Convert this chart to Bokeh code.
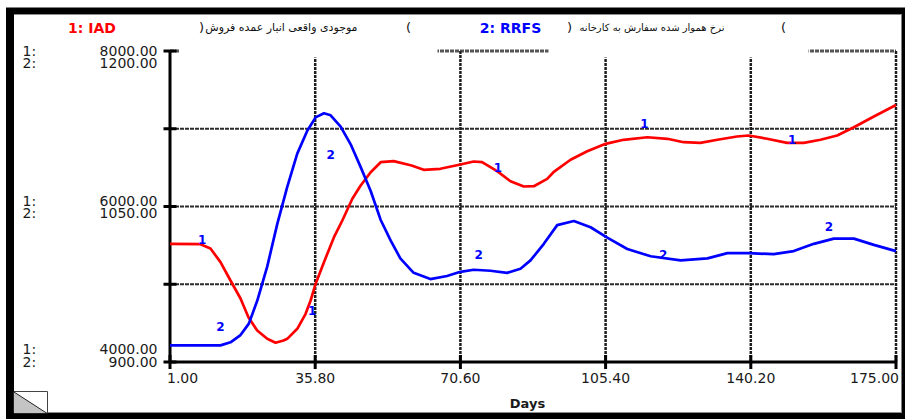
import numpy as np
from bokeh.plotting import figure
from bokeh.models import Range1d
from bokeh.core.properties import value
from bokeh.embed import file_html
from bokeh.resources import INLINE

# --- simulation output -------------------------------------------------------
# 1: IAD  - actual inventory at the distributor
days_iad = [1.0, 8.3, 10.7, 13.1, 15.5, 17.9, 19.8, 21.9, 24.3, 26.3, 28.2, 29.1,
            31.5, 33.5, 34.7, 35.9, 37.9, 40.3, 42.3, 44.7, 46.7, 49.1, 51.5, 54.6,
            58.9, 61.8, 65.8, 70.6, 73.8, 75.8, 79.4, 82.6, 85.8, 88.2, 91.4, 92.9,
            97.0, 101.0, 105.4, 109.7, 115.4, 120.2, 124.1, 128.1, 132.2, 136.9,
            139.7, 144.1, 148.9, 152.9, 156.9, 160.9, 164.9, 169.7, 175.0]
iad = [5520, 5515, 5460, 5284, 5048, 4817, 4576, 4405, 4298, 4247, 4276, 4298,
       4427, 4620, 4791, 5006, 5284, 5605, 5820, 6099, 6270, 6441, 6570, 6583,
       6527, 6472, 6485, 6540, 6579, 6570, 6454, 6325, 6257, 6261, 6356, 6441,
       6601, 6711, 6806, 6858, 6891, 6871, 6827, 6819, 6858, 6900,
       6913, 6871, 6819, 6819, 6858, 6913, 7020, 7158, 7305]

# 2: RRFS - smoothed order rate to the factory
days_rrfs = [1.0, 13.1, 15.5, 17.9, 19.9, 21.9, 24.3, 26.7, 29.1, 31.5, 33.9, 35.9,
             37.9, 39.5, 41.9, 44.3, 46.7, 49.1, 51.5, 53.9, 56.2, 59.4, 63.4, 67.4,
             70.6, 73.8, 77.8, 81.8, 85.0, 87.4, 90.6, 93.8, 97.8, 101.8, 105.8,
             110.6, 116.2, 123.4, 129.8, 134.6, 139.7, 145.7, 150.5, 155.3, 160.1,
             164.9, 169.7, 175.0]
rrfs = [916, 916, 919, 926, 937, 959, 992, 1033, 1069, 1101, 1123, 1136,
        1140, 1138, 1127, 1110, 1088, 1065, 1037, 1017, 1000, 986, 980, 983,
        987, 989, 988, 986, 990, 998, 1014, 1032, 1036, 1030, 1020,
        1009, 1002, 998, 1000, 1005, 1005, 1004, 1007, 1014, 1019,
        1019, 1013, 1007]

# numbered curve markers (day, value in the series' own units)
mark_days_iad = [8.7, 35.1, 79.6, 114.7, 150.1]
mark_vals_iad = [5572, 4662, 6498, 7064, 6858]
mark_days_rrfs = [13.1, 39.5, 75.0, 119.2, 158.9]
mark_vals_rrfs = [934, 1100, 1004, 1004, 1031]

# axes
x_ticks = [1.00, 35.80, 70.60, 105.40, 140.20, 175.00]
x_tick_labels = ["1.00", "35.80", "70.60", "105.40", "140.20", "175.00"]
iad_ticks = [4000, 5000, 6000, 7000, 8000]
iad_labeled = [8000, 6000, 4000]
iad_tick_labels = ["8000.00", "6000.00", "4000.00"]
rrfs_labeled = [1200, 1050, 900]
rrfs_tick_labels = ["1200.00", "1050.00", "900.00"]

series1_name = "1: IAD"
series1_desc = "موجودی واقعی انبار عمده فروش"
series2_name = "2: RRFS"
series2_desc = "نرخ هموار شده سفارش به کارخانه"
x_title = "Days"

# --- page geometry -------------------------------------------------------------
W, H = 905, 419
L, R, T, B = 169.5, 895.5, 50.5, 361.5      # plotting frame, page pixels

X0, X1 = x_ticks[0], x_ticks[-1]
Y0, Y1 = iad_ticks[0], iad_ticks[-1]
Z0, Z1 = rrfs_labeled[-1], rrfs_labeled[0]


def x_at(px):
    return X0 + (px - L) * (X1 - X0) / (R - L)


def y_at(py, lo, hi):
    return hi - (py - T) * (hi - lo) / (B - T)


FONT = value("DejaVu Sans")
RED = "#ff0000"
BLUE = "#0000ff"

p = figure(width=W, height=H, x_range=Range1d(0, W), y_range=Range1d(H, 0),
           output_backend="svg", toolbar_location=None, min_border=0,
           x_axis_location=None, y_axis_location=None, title=None,
           outline_line_color=None, background_fill_color="white",
           border_fill_color="white")
p.grid.visible = False
p.extra_x_ranges = {"d": Range1d(x_at(0), x_at(W))}
p.extra_y_ranges = {"iad": Range1d(y_at(H, Y0, Y1), y_at(0, Y0, Y1)),
                    "rrfs": Range1d(y_at(H, Z0, Z1), y_at(0, Z0, Z1))}
D = dict(x_range_name="d", y_range_name="iad")

# window frame
p.quad(left=5.5, right=W, top=7, bottom=H, fill_color="black", line_color=None)
p.quad(left=13.5, right=901, top=13.5, bottom=412.5, fill_color="white", line_color=None)
p.segment(x0=[13.5, 13.5], x1=[901, 901], y0=[14, 412], y1=[14, 412],
          line_color="#8c8c8c", line_width=1)

# corner resize box
p.quad(left=13.5, right=47, top=391, bottom=412.5, fill_color="white",
       line_color="#444444", line_width=1)
p.patch(x=[13.5, 13.5, 46], y=[391.5, 412.5, 412.5], fill_color="#c4c4c4", line_color=None)
p.line(x=[13.5, 46], y=[391.5, 412.5], line_color="#222222", line_width=1)

# grid
p.segment(x0=[X0] * 3, x1=[X1] * 3, y0=iad_ticks[1:4], y1=iad_ticks[1:4],
          line_color="#2b2b2b", line_width=2, line_dash="4 1", **D)
p.segment(x0=[X0], x1=[X1], y0=[Y1], y1=[Y1],
          line_color="#555555", line_width=3, line_dash="4 1", **D)
p.segment(x0=x_ticks[1:], x1=x_ticks[1:], y0=[Y0] * 5, y1=[Y1] * 5,
          line_color="#1e1e1e", line_width=2.5, line_dash="3 1", **D)
# header blanking over the top edge of the frame
p.quad(left=[179, 548], right=[437, 808], top=[45, 45], bottom=[57, 57],
       fill_color="white", line_color=None)

# axes
p.segment(x0=[X0, X0], x1=[X0, X1], y0=[Y0, Y0], y1=[Y1, Y0],
          line_color="black", line_width=3, **D)
p.scatter(x=[X0] * len(iad_ticks), y=iad_ticks, marker="dash", size=13,
          line_width=3, line_color="black", **D)
p.scatter(x=x_ticks, y=[Y0] * len(x_ticks), marker="dash", angle=np.pi / 2, size=14,
          line_width=3, line_color="black", **D)

# series
p.line(days_iad, iad, line_color=RED, line_width=2.7, **D)
p.line(days_rrfs, rrfs, line_color=BLUE, line_width=2.7, x_range_name="d", y_range_name="rrfs")

p.text(x=mark_days_iad, y=mark_vals_iad, text=["1"] * len(mark_days_iad),
       text_color=BLUE, text_font=FONT, text_font_size="12px", text_font_style="bold",
       text_align="center", text_baseline="middle", **D)
p.text(x=mark_days_rrfs, y=mark_vals_rrfs, text=["2"] * len(mark_days_rrfs),
       text_color=BLUE, text_font=FONT, text_font_size="12px", text_font_style="bold",
       text_align="center", text_baseline="middle", x_range_name="d", y_range_name="rrfs")

# y tick labels (two scales stacked)
lab_style = dict(text_color="#1a1a1a", text_font=FONT, text_font_size="14px",
                 text_baseline="middle")
iad_off = [0, -6, -13]
rrfs_off = [12, 6, 0]
p.text(x=[157] * 3, y=iad_labeled, text=iad_tick_labels, y_offset=iad_off,
       text_align="right", y_range_name="iad", **lab_style)
p.text(x=[157] * 3, y=rrfs_labeled, text=rrfs_tick_labels, y_offset=rrfs_off,
       text_align="right", y_range_name="rrfs", **lab_style)
p.text(x=[22] * 3, y=iad_labeled, text=["1:"] * 3, y_offset=iad_off,
       text_align="left", y_range_name="iad", **lab_style)
p.text(x=[22] * 3, y=rrfs_labeled, text=["2:"] * 3, y_offset=rrfs_off,
       text_align="left", y_range_name="rrfs", **lab_style)

# x tick labels
aligns = ["left"] + ["center"] * (len(x_ticks) - 2) + ["right"]
xoffs = [-3] + [0] * (len(x_ticks) - 2) + [3]
p.text(x=x_ticks, y=[Y0] * len(x_ticks), text=x_tick_labels, text_align=aligns,
       x_offset=xoffs, y_offset=16, **lab_style, **D)
p.text(x=[527], y=[402.5], text=[x_title], text_align="center", text_color="#1a1a1a",
       text_font=FONT, text_font_size="13px", text_font_style="bold",
       text_baseline="middle")

# legend header
p.text(x=[91.5], y=[27], text=[series1_name], text_color=RED, text_font=FONT,
       text_font_size="14px", text_font_style="bold", text_align="center",
       text_baseline="middle")
p.text(x=[510], y=[27], text=[series2_name], text_color=BLUE, text_font=FONT,
       text_font_size="14px", text_font_style="bold", text_align="center",
       text_baseline="middle")
p.text(x=[357], y=[27], text=[series1_desc], text_color="#111111",
       text_font=FONT, text_font_size="11px", text_align="right", text_baseline="middle")
p.text(x=[724], y=[27], text=[series2_desc], text_color="#111111",
       text_font=FONT, text_font_size="10px", text_align="right", text_baseline="middle")
p.text(x=[201, 408, 569, 783], y=[27] * 4, text=[")", "(", ")", "("], text_color="#111111",
       text_font=FONT, text_font_size="13px", text_align="center", text_baseline="middle")

open("out.html", "w").write(file_html(p, INLINE))
